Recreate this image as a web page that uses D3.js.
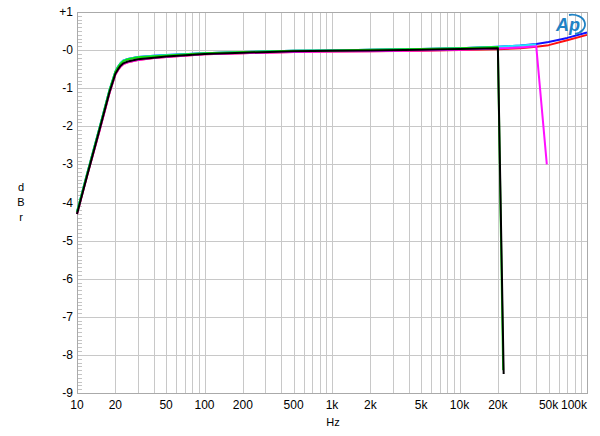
<!DOCTYPE html>
<html>
<head>
<meta charset="utf-8">
<script src="https://cdn.jsdelivr.net/npm/d3@7"></script>
<style>
  body { margin: 0; background: #fff; }
  svg text { font-family: "Liberation Sans", Arial, sans-serif; fill: #000; }
</style>
</head>
<body>
<svg id="chart" width="600" height="436"></svg>
<script>
// data (Hz, dBr)
var blackFreq = [10, 12, 15, 18, 20, 21, 22, 23, 25, 30, 40, 50, 100, 200, 500, 1000, 2000, 5000, 10000, 20000, 22200];
var blackDb   = [-4.3, -3.3, -2.1, -1.1, -0.62, -0.5, -0.41, -0.35, -0.3, -0.24, -0.2, -0.17, -0.1, -0.07, -0.03, -0.02, -0.01, 0.01, 0.03, 0.05, -8.5];
var greenFreq = [10, 12, 15, 18, 20, 21, 22, 23, 25, 30, 40, 50, 100, 200, 500, 1000, 2000, 5000, 10000, 20000, 22000];
var greenDb   = [-4.25, -3.25, -2.05, -1.05, -0.57, -0.44, -0.35, -0.29, -0.24, -0.19, -0.16, -0.14, -0.08, -0.05, -0.02, -0.01, 0.01, 0.03, 0.05, 0.08, -8.4];
var cyanFreq  = [10, 12, 15, 18, 20, 21, 22, 23, 25, 30, 40, 50, 100, 200, 500, 1000, 2000, 5000, 10000, 20000, 30000, 40000];
var cyanDb    = [-4.25, -3.25, -2.05, -1.05, -0.57, -0.43, -0.34, -0.28, -0.23, -0.18, -0.15, -0.13, -0.08, -0.05, -0.02, -0.01, 0.01, 0.03, 0.05, 0.09, 0.12, 0.15];
var blueFreq  = [10, 12, 15, 18, 20, 21, 22, 23, 25, 30, 40, 50, 100, 200, 500, 1000, 2000, 5000, 10000, 20000, 30000, 40000, 50000, 70000, 100000];
var blueDb    = [-4.25, -3.25, -2.05, -1.05, -0.57, -0.43, -0.34, -0.28, -0.23, -0.18, -0.15, -0.13, -0.08, -0.05, -0.02, -0.01, 0.01, 0.03, 0.05, 0.09, 0.12, 0.16, 0.21, 0.32, 0.46];
var redFreq   = [10, 12, 15, 18, 20, 21, 22, 23, 25, 30, 40, 50, 100, 200, 500, 1000, 2000, 5000, 10000, 20000, 30000, 40000, 50000, 70000, 100000];
var redDb     = [-4.3, -3.3, -2.12, -1.12, -0.64, -0.52, -0.43, -0.37, -0.32, -0.26, -0.21, -0.18, -0.11, -0.08, -0.05, -0.04, -0.03, -0.02, 0.0, 0.02, 0.05, 0.09, 0.13, 0.26, 0.40];
var magFreq   = [10, 12, 15, 18, 20, 21, 22, 23, 25, 30, 40, 50, 100, 200, 500, 1000, 2000, 5000, 10000, 20000, 30000, 40000, 48400];
var magDb     = [-4.3, -3.3, -2.12, -1.12, -0.64, -0.52, -0.43, -0.37, -0.32, -0.26, -0.21, -0.18, -0.11, -0.08, -0.05, -0.04, -0.03, -0.01, 0.01, 0.04, 0.07, 0.1, -3.0];

var xTickVals   = [10, 20, 50, 100, 200, 500, 1000, 2000, 5000, 10000, 20000, 50000, 100000];
var xTickLabels = ["10", "20", "50", "100", "200", "500", "1k", "2k", "5k", "10k", "20k", "50k", "100k"];
var yTickVals   = [1, 0, -1, -2, -3, -4, -5, -6, -7, -8, -9];
var yTickLabels = ["+1", "-0", "-1", "-2", "-3", "-4", "-5", "-6", "-7", "-8", "-9"];

var svg = d3.select("#chart"),
    MARGINS = { top: 12, right: 13, bottom: 43, left: 77 },
    WIDTH = 600, HEIGHT = 436;

var xScale = d3.scaleLog().domain([10, 100000]).range([MARGINS.left, WIDTH - MARGINS.right]),
    yScale = d3.scaleLinear().domain([-9, 1]).range([HEIGHT - MARGINS.bottom, MARGINS.top]);

// vertical grid: every 1..9 per decade
var gridX = [];
for (var dec = 10; dec < 100000; dec *= 10) {
    for (var m = 1; m < 10; m++) gridX.push(dec * m);
}
gridX.push(100000);

svg.append("g").selectAll("line")
   .data(gridX).enter().append("line")
   .attr("x1", function(d) { return Math.round(xScale(d)) + 0.5; })
   .attr("x2", function(d) { return Math.round(xScale(d)) + 0.5; })
   .attr("y1", MARGINS.top).attr("y2", HEIGHT - MARGINS.bottom)
   .attr("stroke", "#c8c8c8").attr("stroke-width", 1);

svg.append("g").selectAll("line")
   .data(yTickVals).enter().append("line")
   .attr("x1", MARGINS.left).attr("x2", WIDTH - MARGINS.right)
   .attr("y1", function(d) { return Math.round(yScale(d)) + 0.5; })
   .attr("y2", function(d) { return Math.round(yScale(d)) + 0.5; })
   .attr("stroke", "#c8c8c8").attr("stroke-width", 1);

// minor ticks on the left edge every 0.1 dB
var minor = d3.range(-90, 11).map(function(v) { return v / 10; });
svg.append("g").selectAll("line")
   .data(minor).enter().append("line")
   .attr("x1", MARGINS.left).attr("x2", MARGINS.left + 5)
   .attr("y1", function(d) { return Math.round(yScale(d)) + 0.5; })
   .attr("y2", function(d) { return Math.round(yScale(d)) + 0.5; })
   .attr("stroke", "#c4c4c4").attr("stroke-width", 1);

// frame
svg.append("rect")
   .attr("x", MARGINS.left + 0.5).attr("y", MARGINS.top + 0.5)
   .attr("width", WIDTH - MARGINS.right - MARGINS.left)
   .attr("height", HEIGHT - MARGINS.bottom - MARGINS.top)
   .attr("fill", "none").attr("stroke", "#aaaaaa").attr("stroke-width", 1);

// tick labels
svg.append("g").selectAll("text")
   .data(yTickVals).enter().append("text")
   .attr("x", MARGINS.left - 4)
   .attr("y", function(d) { return yScale(d) + 4; })
   .attr("text-anchor", "end")
   .attr("font-size", 12)
   .text(function(d, i) { return yTickLabels[i]; });

svg.append("g").selectAll("text")
   .data(xTickVals).enter().append("text")
   .attr("x", function(d) { return xScale(d); })
   .attr("y", HEIGHT - MARGINS.bottom + 16)
   .attr("text-anchor", function(d) { return d === 100000 ? "end" : "middle"; })
   .attr("font-size", 12)
   .text(function(d, i) { return xTickLabels[i]; });

svg.append("text").attr("x", 333).attr("y", 426)
   .attr("text-anchor", "middle").attr("font-size", 11).text("Hz");

svg.append("g").selectAll("text")
   .data(["d", "B", "r"]).enter().append("text")
   .attr("x", 21)
   .attr("y", function(d, i) { return 191 + i * 15; })
   .attr("text-anchor", "middle").attr("font-size", 11)
   .text(function(d) { return d; });

// traces
var lineGen = d3.line()
    .x(function(d) { return xScale(d[0]); })
    .y(function(d) { return yScale(d[1]); });

function trace(freq, db, colour) {
    svg.append("path")
       .attr("d", lineGen(d3.zip(freq, db)))
       .attr("stroke", colour).attr("stroke-width", 2)
       .attr("stroke-linejoin", "round")
       .attr("fill", "none");
}

trace(blueFreq, blueDb, "#1010ff");
trace(redFreq, redDb, "#ff1010");
trace(cyanFreq, cyanDb, "#20e8ff");
trace(magFreq, magDb, "#ff10ff");
trace(greenFreq, greenDb, "#10e010");
trace(blackFreq, blackDb, "#000000");

// Ap logo
var logo = svg.append("g").attr("transform", "translate(568,25)");
logo.append("text")
    .attr("x", 0).attr("y", 6)
    .attr("text-anchor", "middle")
    .attr("font-size", 18).attr("font-style", "italic").attr("font-weight", "bold")
    .attr("style", "fill:#1f82c4")
    .text("Ap");
logo.append("path")
    .attr("d", "M 1,-10 A 12,9 0 1 1 7,9")
    .attr("fill", "none").attr("stroke", "#1f82c4").attr("stroke-width", 1.8);
</script>
</body>
</html>
